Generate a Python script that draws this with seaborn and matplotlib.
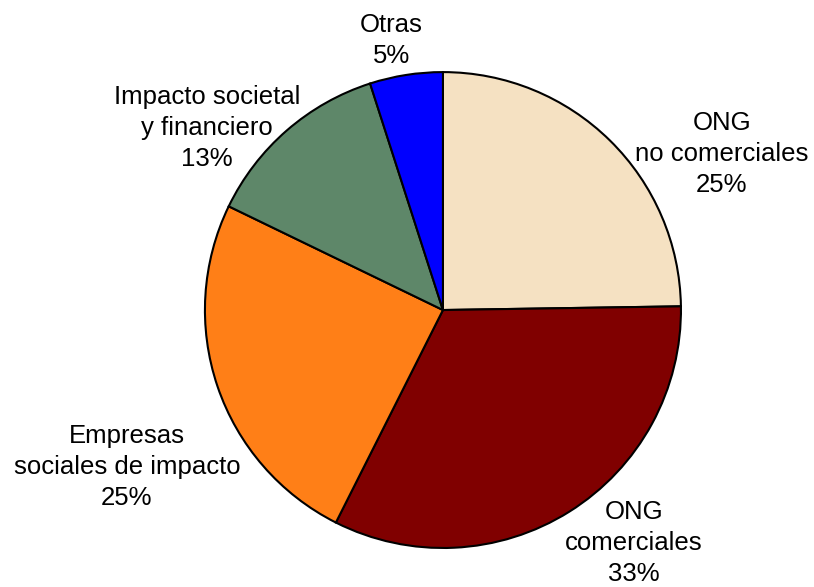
import matplotlib
matplotlib.use("Agg")
import matplotlib.pyplot as plt
import seaborn as sns

categories = ["ONG\nno comerciales", "ONG\ncomerciales", "Empresas\nsociales de impacto",
              "Impacto societal\ny financiero", "Otras"]
shares = [25, 33, 25, 13, 5]
colors = ["#F5E1C2", "#800000", "#FF7F17", "#5E8769", "#0000FF"]

# label anchor points, in units of the pie radius
label_pos = [(1.172, 0.655), (0.803, -0.979), (-1.328, -0.66), (-0.992, 0.765), (-0.218, 1.134)]

sns.set_theme(style="white")
plt.rcParams["font.family"] = ["Liberation Sans", "DejaVu Sans"]

fig = plt.figure(figsize=(8.14, 5.87), dpi=100)
ax = fig.add_axes([0, 0, 1, 1])
ax.pie(shares, colors=sns.color_palette(colors), startangle=90, counterclock=False,
       radius=1.0, wedgeprops=dict(edgecolor="black", linewidth=1.5))
ax.set_xlim(-1.861, 1.559)
ax.set_ylim(-1.164, 1.303)
ax.set_aspect("auto")
ax.axis("off")

for name, val, (x, y) in zip(categories, shares, label_pos):
    ax.text(x, y, f"{name}\n{val}%", ha="center", va="center", fontsize=18.5,
            color="black", linespacing=1.38, multialignment="center")

fig.savefig("out.png", dpi=100, facecolor="white")
